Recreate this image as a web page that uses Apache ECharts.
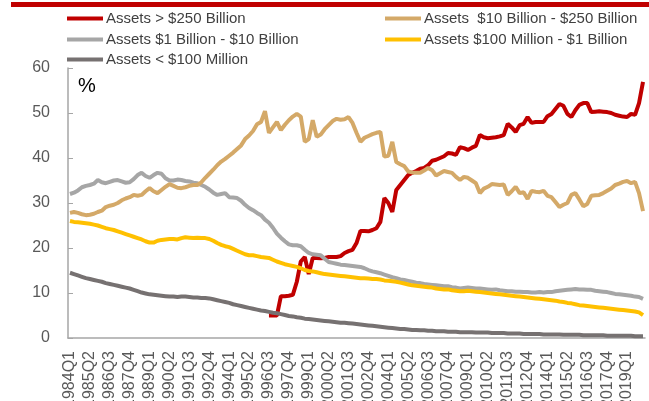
<!DOCTYPE html>
<html>
<head>
<meta charset="utf-8">
<script src="https://cdn.jsdelivr.net/npm/echarts@6/dist/echarts.min.js"></script>
<style>
  html, body { margin: 0; padding: 0; background: #fff; }
  #chart { width: 649px; height: 401px; }
</style>
</head>
<body>
<div id="chart"></div>
<script>
// quarters 1984Q1 .. 2020Q1
const quarters = []
for (let y = 1984; y <= 2020; y++) {
  for (let q = 1; q <= 4; q++) {
    if (y === 2020 && q > 1) break
    quarters.push(y + 'Q' + q)
  }
}

const yTicks = [0, 10, 20, 30, 40, 50, 60]

// Assets > $250 Billion (starts 1996Q3)
const over250b = Array(50).fill(null).concat([
  5.0, 5.0, 5.0, 9.3, 9.3, 9.4, 9.6, 12.5, 17.0, 18.0,
  14.2, 17.8, 17.8, 17.7, 17.8, 18.0, 18.0, 18.0, 18.2, 18.9,
  19.3, 19.6, 21.1, 23.8, 23.8, 23.7, 24.0, 24.4, 25.8, 31.1,
  30.0, 28.0, 32.9, 34.0, 35.1, 36.2, 36.7, 37.1, 37.6, 37.8,
  38.4, 39.4, 39.6, 40.0, 40.4, 41.1, 41.0, 40.7, 42.4, 42.2,
  41.8, 42.3, 42.7, 45.1, 44.6, 44.4, 44.5, 44.6, 44.8, 45.1,
  47.6, 46.8, 45.8, 47.3, 47.6, 49.1, 47.8, 48.0, 48.0, 48.0,
  49.3, 49.8, 50.9, 52.0, 51.6, 49.8, 49.1, 50.6, 51.8, 52.2,
  52.2, 50.2, 50.3, 50.4, 50.3, 50.2, 50.0, 49.6, 49.4, 49.2,
  49.1, 49.8, 49.6, 52.2, 56.9
])

// Assets $10 Billion - $250 Billion
const b10to250 = [
  27.8, 28.0, 27.8, 27.5, 27.3, 27.4, 27.6, 28.0, 28.3, 29.1,
  29.4, 29.6, 30.0, 30.6, 31.0, 31.3, 31.8, 31.6, 31.8, 32.6,
  33.3, 32.6, 32.2, 32.9, 33.6, 34.2, 33.8, 33.4, 33.3, 33.5,
  33.8, 34.0, 34.0, 34.6, 35.6, 36.5, 37.4, 38.4, 39.2, 39.8,
  40.5, 41.2, 42.0, 42.8, 44.2, 45.0, 46.0, 47.5, 48.0, 50.4,
  45.6, 46.8, 48.0, 46.2, 47.4, 48.4, 49.2, 49.8, 49.2, 43.6,
  44.2, 48.4, 44.7, 45.2, 46.4, 47.3, 48.2, 48.7, 48.5, 48.6,
  49.1, 47.8, 45.6, 43.6, 44.5, 44.9, 45.3, 45.6, 45.8, 40.3,
  40.5, 43.6, 39.1, 38.6, 38.2, 37.0, 36.8, 36.7, 36.7, 37.2,
  37.8, 37.3, 36.1, 36.6, 37.1, 36.9, 36.7, 35.8, 35.1, 35.8,
  35.6, 35.0, 34.4, 32.2, 33.2, 33.6, 34.2, 34.1, 34.0, 34.1,
  31.8, 32.6, 33.6, 32.2, 32.4, 30.9, 32.7, 32.5, 32.4, 32.7,
  31.6, 31.3, 30.2, 29.1, 29.6, 30.0, 31.8, 32.2, 30.8, 29.3,
  29.8, 31.6, 31.7, 31.8, 32.2, 32.7, 33.2, 34.0, 34.3, 34.7,
  34.9, 34.4, 34.7, 32.2, 28.2
]

// Assets $1 Billion - $10 Billion
const b1to10 = [
  32.0, 32.3, 32.8, 33.5, 33.8, 34.0, 34.3, 35.1, 34.6, 34.4,
  34.7, 35.0, 35.1, 34.8, 34.5, 34.6, 35.3, 36.2, 36.7, 36.0,
  35.6, 36.2, 36.7, 36.5, 35.5, 35.0, 35.0, 35.2, 35.1, 34.9,
  34.8, 34.5, 34.4, 34.0, 33.6, 33.0, 32.3, 31.8, 32.0, 32.2,
  31.3, 31.2, 31.1, 30.5, 29.6, 28.9, 28.4, 27.8, 27.3, 26.3,
  25.6, 24.5, 23.2, 22.3, 21.5, 20.8, 20.6, 20.6, 20.4, 19.6,
  18.9, 18.6, 18.5, 18.4, 17.6, 16.9, 16.7, 16.5, 16.3, 16.2,
  16.1, 16.0, 15.9, 15.8, 15.5, 15.1, 14.8, 14.6, 14.4, 14.1,
  13.8, 13.5, 13.3, 13.0, 12.9, 12.7, 12.5, 12.3, 12.2, 12.0,
  11.9, 11.8, 11.7, 11.6, 11.5, 11.5, 11.3, 11.2, 11.0, 11.1,
  11.2, 11.1, 11.0, 11.0, 10.9, 10.8, 10.7, 10.8, 10.6, 10.5,
  10.4, 10.4, 10.3, 10.3, 10.2, 10.2, 10.1, 10.1, 10.2, 10.1,
  10.2, 10.2, 10.4, 10.5, 10.6, 10.7, 10.8, 10.9, 10.8, 10.8,
  10.7, 10.7, 10.5, 10.4, 10.3, 10.2, 10.0, 9.8, 9.7, 9.6,
  9.5, 9.4, 9.2, 9.1, 8.7
]

// Assets $100 Million - $1 Billion
const m100to1b = [
  26.0, 25.8, 25.7, 25.6, 25.5, 25.4, 25.2, 25.0, 24.7, 24.4,
  24.2, 24.0, 23.7, 23.4, 23.1, 22.8, 22.5, 22.2, 21.9, 21.5,
  21.2, 21.2, 21.6, 21.8, 21.9, 22.0, 22.0, 21.9, 22.2, 22.4,
  22.3, 22.2, 22.3, 22.2, 22.2, 22.0, 21.6, 21.1, 20.7, 20.4,
  20.2, 19.8, 19.4, 19.0, 18.6, 18.4, 18.4, 18.2, 18.0, 17.9,
  17.8, 17.4, 17.0, 16.7, 16.4, 16.2, 16.0, 15.8, 15.5, 15.1,
  14.9, 14.8, 14.6, 14.4, 14.2, 14.1, 14.0, 13.9, 13.8, 13.7,
  13.6, 13.5, 13.4, 13.3, 13.3, 13.2, 13.1, 13.1, 13.0, 12.8,
  12.7, 12.6, 12.5, 12.3, 12.1, 11.9, 11.7, 11.6, 11.5, 11.4,
  11.3, 11.2, 11.0, 10.9, 10.8, 10.8, 10.6, 10.5, 10.4, 10.4,
  10.5, 10.4, 10.3, 10.2, 10.1, 10.0, 9.9, 9.8, 9.7, 9.6,
  9.5, 9.4, 9.3, 9.2, 9.1, 9.0, 8.9, 8.8, 8.7, 8.6,
  8.5, 8.4, 8.3, 8.1, 8.0, 7.8, 7.7, 7.5, 7.3, 7.2,
  7.1, 7.0, 6.9, 6.8, 6.7, 6.6, 6.5, 6.4, 6.3, 6.2,
  6.1, 6.0, 5.9, 5.7, 5.1
]

// Assets < $100 Million
const under100m = [
  14.5, 14.2, 13.9, 13.6, 13.3, 13.1, 12.9, 12.7, 12.5, 12.2,
  12.0, 11.8, 11.6, 11.4, 11.2, 11.0, 10.7, 10.4, 10.1, 9.9,
  9.7, 9.6, 9.5, 9.4, 9.3, 9.2, 9.2, 9.1, 9.2, 9.2,
  9.1, 9.0, 9.0, 8.9, 8.9, 8.8, 8.6, 8.4, 8.2, 8.0,
  7.8, 7.5, 7.3, 7.1, 6.9, 6.7, 6.5, 6.3, 6.1, 6.0,
  5.8, 5.6, 5.5, 5.3, 5.1, 4.9, 4.8, 4.6, 4.5, 4.3,
  4.2, 4.1, 4.0, 3.9, 3.8, 3.7, 3.6, 3.5, 3.4, 3.4,
  3.3, 3.2, 3.1, 3.0, 2.9, 2.8, 2.7, 2.6, 2.5, 2.4,
  2.3, 2.2, 2.1, 2.0, 2.0, 1.9, 1.8, 1.8, 1.7, 1.7,
  1.6, 1.6, 1.5, 1.5, 1.5, 1.4, 1.4, 1.4, 1.3, 1.3,
  1.3, 1.3, 1.2, 1.2, 1.2, 1.2, 1.1, 1.1, 1.1, 1.1,
  1.0, 1.0, 1.0, 1.0, 0.9, 0.9, 0.9, 0.9, 0.9, 0.8,
  0.8, 0.8, 0.8, 0.8, 0.7, 0.7, 0.7, 0.7, 0.7, 0.6,
  0.6, 0.6, 0.6, 0.6, 0.6, 0.5, 0.5, 0.5, 0.5, 0.5,
  0.5, 0.5, 0.4, 0.4, 0.4
]

const names = [
  'Assets > $250 Billion',
  'Assets  $10 Billion - $250 Billion',
  'Assets $1 Billion - $10 Billion',
  'Assets $100 Million - $1 Billion',
  'Assets < $100 Million'
]
const colors = ['#c00000', '#d4a968', '#a6a6a6', '#ffc000', '#767171']
const values = [over250b, b10to250, b1to10, m100to1b, under100m]

// legend positions (left, top)
const legendPos = [[67, 11], [385, 11], [67, 32], [385, 32], [67, 52]]

const textColor = '#404040'
const axisColor = '#a6a6a6'
const font = 'Liberation Sans, Arial, sans-serif'

const chart = echarts.init(document.getElementById('chart'), null, { renderer: 'canvas' })

const option = {
  animation: false,
  backgroundColor: '#fff',
  color: colors,
  grid: { left: 68, right: 4, top: 68, bottom: 63, containLabel: false, outerBoundsMode: 'none' },
  legend: names.map((n, i) => ({
    data: [n],
    left: legendPos[i][0],
    top: legendPos[i][1],
    icon: 'rect',
    itemWidth: 36,
    itemHeight: 4,
    itemGap: 0,
    padding: 0,
    textStyle: { color: textColor, fontSize: 15, fontFamily: font, padding: [0, 0, 0, -2] }
  })),
  xAxis: {
    type: 'category',
    data: quarters,
    boundaryGap: true,
    axisLine: { lineStyle: { color: axisColor, width: 1.5 } },
    axisTick: { show: false },
    axisLabel: {
      interval: 4,
      rotate: 90,
      margin: 13,
      color: '#595959',
      fontSize: 16,
      fontFamily: font
    },
    splitLine: { show: false }
  },
  yAxis: {
    type: 'value',
    min: 0,
    max: 60,
    interval: 10,
    axisLine: { show: true, lineStyle: { color: axisColor, width: 1.5 } },
    axisTick: { show: true, inside: true, length: 5, lineStyle: { color: axisColor } },
    axisLabel: {
      margin: 18,
      color: '#595959',
      fontSize: 16,
      fontFamily: font,
      formatter: v => (yTicks.includes(v) ? String(v) : '')
    },
    splitLine: { show: false }
  },
  graphic: [
    { type: 'rect', left: 11, top: 2, shape: { width: 638, height: 5 }, style: { fill: '#c00000' } },
    { type: 'text', left: 78, top: 76, style: { text: '%', fontSize: 20, fill: '#000', fontFamily: font } }
  ],
  series: names.map((n, i) => ({
    name: n,
    type: 'line',
    data: values[i],
    showSymbol: false,
    symbol: 'none',
    connectNulls: false,
    lineStyle: { width: 4, color: colors[i] },
    itemStyle: { color: colors[i] },
    z: i === 1 ? 3 : 2
  }))
}

chart.setOption(option)
</script>
</body>
</html>
